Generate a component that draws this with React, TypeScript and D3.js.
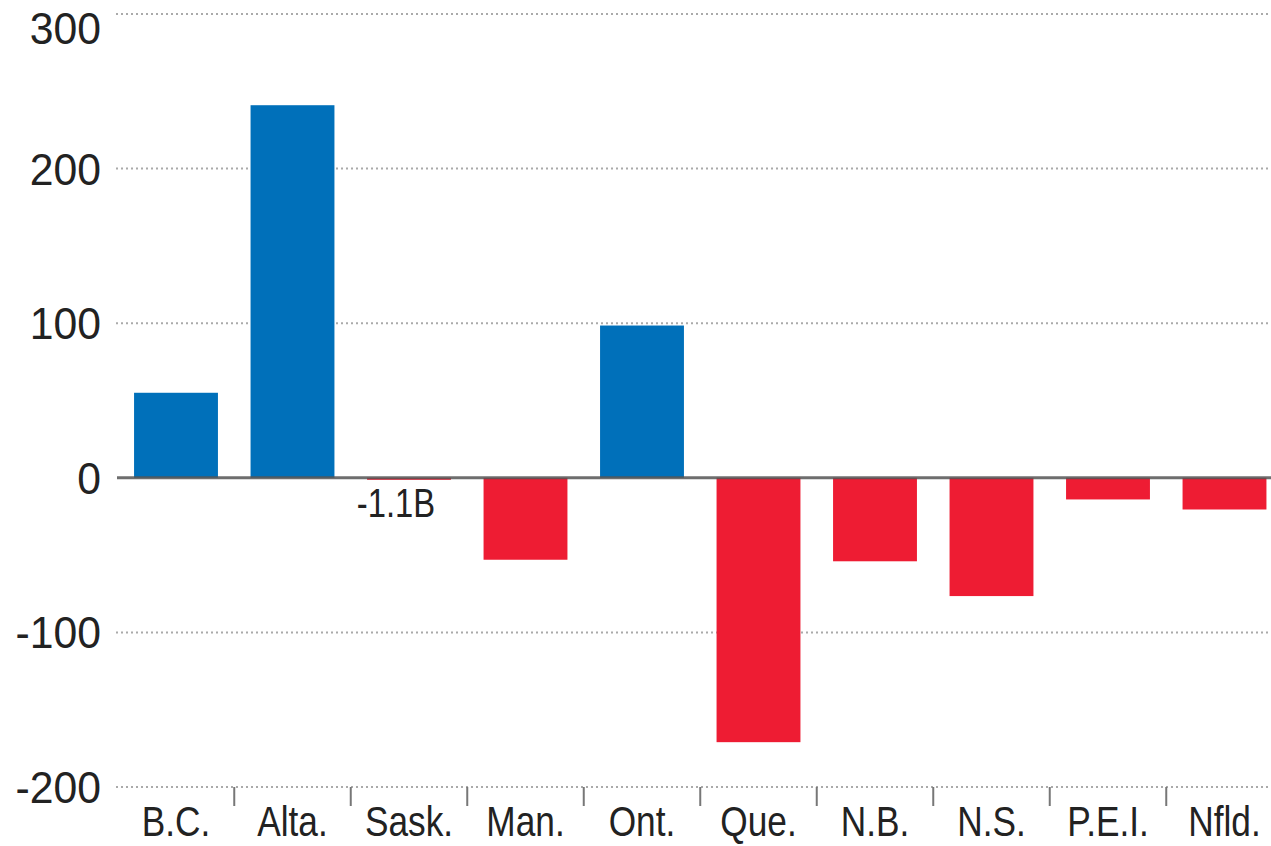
import React from "react";
import * as d3 from "d3";

const provinces = ["B.C.", "Alta.", "Sask.", "Man.", "Ont.", "Que.", "N.B.", "N.S.", "P.E.I.", "Nfld."];
const values = [55, 241, -1.1, -53, 98.5, -171, -54, -76.5, -14, -20.5];
const yTicks = [-200, -100, 0, 100, 200, 300];
const annotation = { province: "Sask.", text: "-1.1B" };

const W = 1271;
const H = 846;
const BLUE = "#0070BA";
const RED = "#EE1C33";
const FONT = "'Liberation Sans', Arial, sans-serif";

export default function App() {
  const x = d3.scaleBand<string>().domain(provinces).range([117.75, 1282.75]).paddingInner(0.28).paddingOuter(0.14);
  const y = d3.scaleLinear().domain([-200, 300]).range([787, 14]);
  const y0 = y(0);

  return (
    <svg width={W} height={H} style={{ position: "absolute", left: 0, top: 0, background: "#fff" }}>
      {/* gridlines */}
      {yTicks.filter((t) => t !== 0).map((t) => (
        <line key={"g" + t} x1={116} x2={W} y1={y(t)} y2={y(t)} stroke="#aaa" strokeWidth={2} strokeDasharray="2,3" />
      ))}
      {/* y labels */}
      {yTicks.map((t) => (
        <text
          key={"l" + t}
          transform={`translate(101,${t === 300 ? y(t) + 30 : y(t) + 16}) scale(0.95,1)`}
          textAnchor="end"
          fontFamily={FONT}
          fontSize={45}
          fill="#222"
        >
          {t}
        </text>
      ))}
      {/* bars */}
      {provinces.map((p, i) => {
        const v = values[i];
        const top = v >= 0 ? y(v) : y0;
        const h = Math.max(Math.abs(y(v) - y0), 2);
        return <rect key={p} x={x(p)} y={top} width={x.bandwidth()} height={h} fill={v >= 0 ? BLUE : RED} />;
      })}
      {/* zero line */}
      <line x1={117} x2={W} y1={y0} y2={y0} stroke="#555" strokeWidth={3} opacity={0.85} />
      {/* annotation */}
      <text
        transform={`translate(${(x(annotation.province) as number) + x.bandwidth() / 2 - 13},517) scale(0.82,1)`}
        textAnchor="middle"
        fontFamily={FONT}
        fontSize={40}
        fill="#222"
      >
        {annotation.text}
      </text>
      {/* bottom ticks */}
      {provinces.slice(1).map((p) => {
        const bx = (x(p) as number) - (x.step() - x.bandwidth()) / 2;
        return <line key={"t" + p} x1={bx} x2={bx} y1={787} y2={806} stroke="#777" strokeWidth={2} />;
      })}
      {/* category labels */}
      {provinces.map((p) => (
        <text
          key={"c" + p}
          transform={`translate(${(x(p) as number) + x.bandwidth() / 2},836) scale(0.82,1)`}
          textAnchor="middle"
          fontFamily={FONT}
          fontSize={43}
          fill="#222"
        >
          {p}
        </text>
      ))}
    </svg>
  );
}
